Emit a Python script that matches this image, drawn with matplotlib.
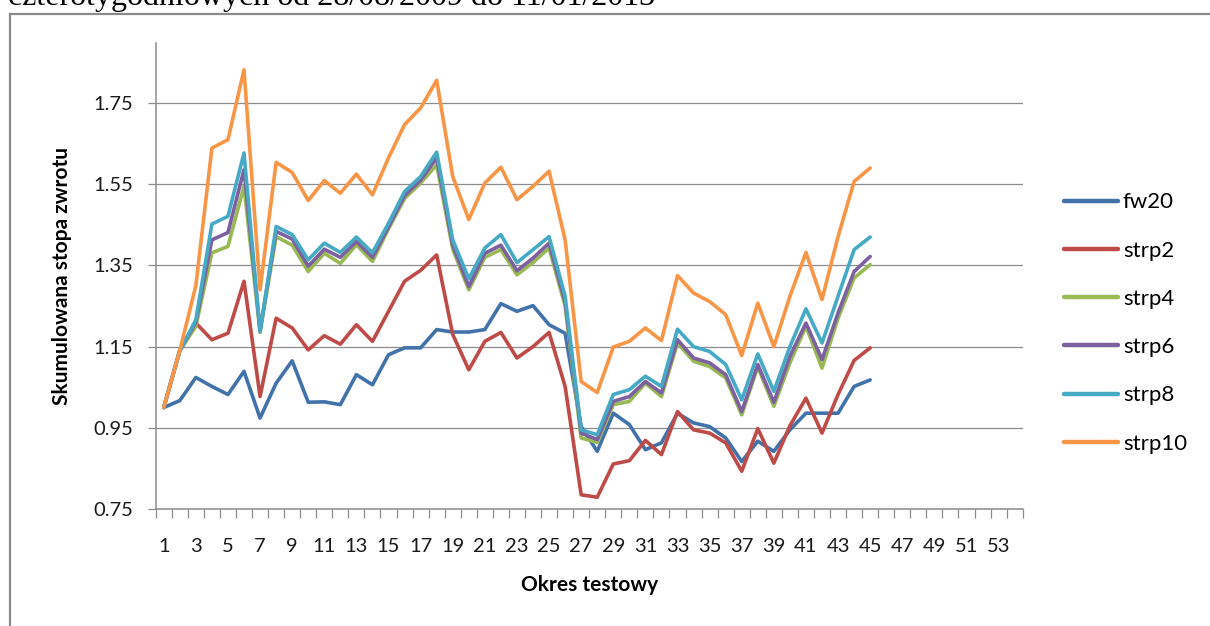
import matplotlib
matplotlib.use("Agg")
import matplotlib.pyplot as plt
from matplotlib.lines import Line2D
import numpy as np

periods = list(range(1, 55))
fw20 = [1.00, 1.017, 1.074, 1.052, 1.032, 1.089, 0.974, 1.060, 1.115, 1.013,
        1.014, 1.007, 1.081, 1.056, 1.130, 1.147, 1.147, 1.192, 1.186, 1.186,
        1.192, 1.256, 1.237, 1.251, 1.204, 1.183, 0.953, 0.892, 0.986, 0.958,
        0.896, 0.913, 0.986, 0.962, 0.953, 0.925, 0.867, 0.917, 0.892, 0.945,
        0.986, 0.986, 0.986, 1.052, 1.068]
strp2 = [1.00, 1.14, 1.208, 1.167, 1.183, 1.311, 1.027, 1.220, 1.196, 1.142,
         1.177, 1.156, 1.204, 1.163, 1.237, 1.311, 1.338, 1.376, 1.180, 1.093,
         1.163, 1.185, 1.122, 1.150, 1.185, 1.052, 0.785, 0.779, 0.861, 0.869,
         0.919, 0.884, 0.990, 0.945, 0.937, 0.913, 0.843, 0.948, 0.863, 0.955,
         1.023, 0.937, 1.032, 1.116, 1.147]
strp4 = [1.00, 1.14, 1.20, 1.381, 1.397, 1.545, 1.185, 1.421, 1.40, 1.335,
         1.38, 1.355, 1.401, 1.36, 1.44, 1.515, 1.553, 1.598, 1.39, 1.290,
         1.37, 1.389, 1.327, 1.357, 1.393, 1.25, 0.925, 0.914, 1.007, 1.015,
         1.060, 1.027, 1.159, 1.114, 1.101, 1.073, 0.982, 1.100, 1.003, 1.11,
         1.200, 1.097, 1.220, 1.319, 1.352]
strp6 = [1.00, 1.14, 1.21, 1.413, 1.431, 1.586, 1.19, 1.434, 1.415, 1.348,
         1.39, 1.37, 1.409, 1.37, 1.445, 1.522, 1.56, 1.615, 1.40, 1.298,
         1.38, 1.40, 1.337, 1.368, 1.405, 1.26, 0.937, 0.921, 1.015, 1.027,
         1.064, 1.036, 1.167, 1.122, 1.110, 1.081, 0.990, 1.106, 1.013, 1.126,
         1.208, 1.118, 1.233, 1.335, 1.372]
strp8 = [1.00, 1.14, 1.216, 1.452, 1.471, 1.627, 1.187, 1.446, 1.426, 1.364,
         1.405, 1.382, 1.420, 1.381, 1.454, 1.532, 1.569, 1.629, 1.413, 1.317,
         1.393, 1.426, 1.357, 1.389, 1.421, 1.274, 0.945, 0.933, 1.032, 1.044,
         1.077, 1.052, 1.193, 1.150, 1.138, 1.106, 1.019, 1.132, 1.040, 1.150,
         1.243, 1.159, 1.274, 1.389, 1.420]
strp10 = [1.00, 1.14, 1.30, 1.639, 1.660, 1.832, 1.290, 1.604, 1.579, 1.510,
          1.559, 1.528, 1.575, 1.524, 1.615, 1.697, 1.738, 1.806, 1.569, 1.463,
          1.553, 1.592, 1.512, 1.545, 1.582, 1.413, 1.064, 1.037, 1.149, 1.163,
          1.196, 1.165, 1.325, 1.282, 1.261, 1.229, 1.128, 1.257, 1.150, 1.274,
          1.382, 1.266, 1.421, 1.557, 1.590]

series_names = ["fw20", "strp2", "strp4", "strp6", "strp8", "strp10"]
series_values = [fw20, strp2, strp4, strp6, strp8, strp10]
colors = ["#4272AA", "#BE4B48", "#98B954", "#7D60A0", "#46AAC5", "#F79646"]
y_ticks = [0.75, 0.95, 1.15, 1.35, 1.55, 1.75]
x_label_ticks = list(range(1, 54, 2))

title_text = "czterotygodniowych od 28/08/2009 do 11/01/2013"
x_title = "Okres testowy"
y_title = "Skumulowana stopa zwrotu"

W, H = 1210, 626
fig = plt.figure(figsize=(W / 100, H / 100), dpi=100)
fig.patch.set_facecolor("white")

# partially visible document text above the chart (cut off as in the source)
fig.text(655 / W, 1 - 5.5 / H, title_text, ha="right", va="baseline",
         fontsize=23, family="Liberation Serif", color="black")

# chart frame (top and left edges)
fig.add_artist(Line2D([10 / W, 1.0], [1 - 13.5 / H, 1 - 13.5 / H],
                      transform=fig.transFigure, color="#8a8a8a", lw=1.6))
fig.add_artist(Line2D([10 / W, 10 / W], [1 - 13.5 / H, 0.0],
                      transform=fig.transFigure, color="#8a8a8a", lw=1.6))

ax_left, ax_right, ax_top, ax_bottom = 155.7, 1022.7, 43, 509
ax = fig.add_axes([ax_left / W, 1 - ax_bottom / H,
                   (ax_right - ax_left) / W, (ax_bottom - ax_top) / H])

x = np.arange(1, len(fw20) + 1)
for name, vals, c in zip(series_names, series_values, colors):
    ax.plot(x, vals, color=c, lw=2.6, label=name, solid_joinstyle="round",
            solid_capstyle="round")

ax.set_xlim(0.5, len(periods) + 0.5)
ax.set_ylim(0.75, 1.898)
ax.set_yticks(y_ticks)
ax.set_yticklabels([f"{v:.2f}" for v in y_ticks])
ax.yaxis.grid(True, color="#8c8c8c", lw=0.9)
ax.set_axisbelow(True)

ax.set_xticks(x_label_ticks)
ax.set_xticklabels([str(v) for v in x_label_ticks])
ax.set_xticks(np.arange(0.5, len(periods) + 1, 1.0), minor=True)
ax.tick_params(axis="x", which="major", length=0, pad=21, labelsize=14.5,
               labelcolor="#1a1a1a")
ax.tick_params(axis="x", which="minor", length=6.5, width=0.9, color="#8c8c8c",
               direction="out")
ax.tick_params(axis="y", which="major", length=6, width=0.9, color="#8c8c8c",
               direction="out", pad=10, labelsize=14.5, labelcolor="#1a1a1a")
for lab in ax.get_xticklabels() + ax.get_yticklabels():
    lab.set_family("Lato")

for s in ["top", "right"]:
    ax.spines[s].set_visible(False)
for s in ["left", "bottom"]:
    ax.spines[s].set_color("#8c8c8c")
    ax.spines[s].set_linewidth(1.1)

fig.text((ax_left + ax_right) / 2 / W, 1 - 585 / H, x_title, ha="center",
         va="center", fontsize=15, fontweight="bold", family="Lato")
fig.text(62 / W, 1 - 276 / H, y_title, ha="center", va="center",
         rotation=90, fontsize=15, fontweight="bold", family="Lato")

leg = ax.legend(loc="center left", bbox_to_anchor=(1064 / W, 1 - 323 / H),
                bbox_transform=fig.transFigure, frameon=False,
                prop={"family": "Lato", "size": 16}, handlelength=2.45,
                handletextpad=0.2, labelspacing=1.27, borderpad=0,
                borderaxespad=0)
for line in leg.get_lines():
    line.set_linewidth(3.2)
    line.set_solid_capstyle("round")

fig.savefig("out.png", dpi=100, facecolor="white")
